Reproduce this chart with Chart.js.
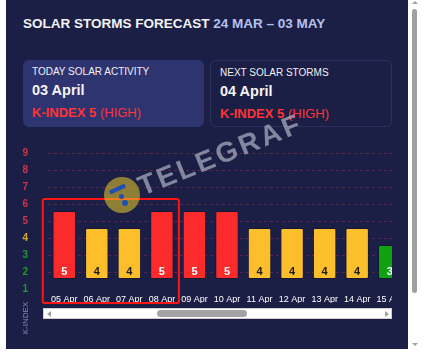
<!DOCTYPE html>
<html><head><meta charset="utf-8">
<script src="https://cdn.jsdelivr.net/npm/chart.js@4"></script>
<style>
html,body{margin:0;padding:0;background:#fff;width:428px;height:355px;overflow:hidden;font-family:"Liberation Sans",Arial,sans-serif;}
#panel{position:absolute;left:6px;top:0;width:402px;height:349px;background:#1c1f45;}
.abs{position:absolute;}
#title{left:23px;top:16px;font-size:13.5px;font-weight:bold;color:#f2f2f2;white-space:nowrap;}
#title span{color:#b4c1ee;}
.card{position:absolute;top:60px;height:67px;border-radius:6px;box-sizing:border-box;}
#c1{left:23px;width:181px;background:#2e3470;}
#c2{left:210px;width:182px;background:#1c1f45;border:1px solid #2d315e;}
.lab{position:absolute;left:9px;top:6px;font-size:10px;color:#f0f0f0;white-space:nowrap;}
.day{position:absolute;left:9px;top:22px;font-size:14.5px;font-weight:bold;color:#f4f4f4;white-space:nowrap;}
.kx{position:absolute;left:9px;top:45px;font-size:13px;color:#ff3333;white-space:nowrap;}
.kx b{font-weight:bold;}
#clip{left:0;top:127px;width:392px;height:188px;overflow:hidden;}
#kidx{left:25px;top:318px;transform:translate(-50%,-50%) rotate(-90deg);font-size:8px;color:#7f8fc4;white-space:nowrap;}
#hs{left:43px;top:308px;width:349px;height:11px;background:#fff;box-sizing:border-box;border:1px solid #d0d0d0;}
#hthumb{left:157px;top:310px;width:90px;height:7px;background:#a4a4a4;border-radius:4px;}
.tri{position:absolute;width:0;height:0;}
#wm{left:143px;top:173px;font-size:28px;line-height:28px;font-weight:bold;letter-spacing:3px;color:rgba(215,218,232,0.55);transform-origin:0 24px;transform:rotate(-22deg);white-space:nowrap;font-family:"Liberation Sans",Arial,sans-serif;}
#logo{left:104px;top:177px;width:36px;height:36px;border-radius:50%;background:rgba(235,205,40,0.55);}
#vs{left:408px;top:0;width:20px;height:355px;background:#fff;}
#vthumb{left:412px;top:9px;width:5px;height:284px;background:#a0a0a0;border-radius:3px;}
</style></head>
<body>
<div id="panel"></div>
<div id="title" class="abs">SOLAR STORMS FORECAST <span>24 MAR – 03 MAY</span></div>
<div id="c1" class="card"><div class="lab">TODAY SOLAR ACTIVITY</div><div class="day">03 April</div><div class="kx"><b>K-INDEX 5</b> (HIGH)</div></div>
<div id="c2" class="card"><div class="lab">NEXT SOLAR STORMS</div><div class="day">04 April</div><div class="kx"><b>K-INDEX 5</b> (HIGH)</div></div>
<div id="clip" class="abs"><canvas id="c" width="406" height="188" style="display:block;width:406px;height:188px"></canvas></div>
<div id="kidx" class="abs">K-INDEX</div>
<div id="hs" class="abs"></div>
<div id="hthumb" class="abs"></div>
<div class="tri" style="left:47px;top:311px;border-top:3px solid transparent;border-bottom:3px solid transparent;border-right:4px solid #a0a0a0;"></div>
<div class="tri" style="left:385px;top:311px;border-top:3px solid transparent;border-bottom:3px solid transparent;border-left:4px solid #a0a0a0;"></div>
<div id="vs" class="abs"></div>
<div id="vthumb" class="abs"></div>
<div class="tri" style="left:412px;top:1px;border-left:3px solid transparent;border-right:3px solid transparent;border-bottom:3px solid #a0a0a0;"></div>
<div class="tri" style="left:412px;top:343px;border-left:3px solid transparent;border-right:3px solid transparent;border-top:3px solid #a0a0a0;"></div>
<div id="logo" class="abs">
  <div class="abs" style="left:5px;top:10px;width:17px;height:4px;background:#1d4fb4;transform:rotate(-24deg);border-radius:1px;"></div>
  <div class="abs" style="left:15px;top:17px;width:5px;height:5px;border-radius:50%;background:#1d4fb4;"></div>
  <div class="abs" style="left:18px;top:23px;width:6px;height:6px;border-radius:50%;background:#1d4fb4;"></div>
</div>
<div id="wm" class="abs">TELEGRAF</div>
<script>
// ---- data ----
const days = ["05 Apr","06 Apr","07 Apr","08 Apr","09 Apr","10 Apr","11 Apr","12 Apr","13 Apr","14 Apr","15 Apr"];
const kIndex = [5,4,4,5,5,5,4,4,4,4,3];
const yTicks = [1,2,3,4,5,6,7,8,9];
const highlighted = [0,3]; // 05 Apr – 08 Apr

function levelColor(v){ return v>=5 ? '#fb2b2b' : (v===4 ? '#fdbe2c' : '#0fa10f'); }
function tickColor(v){ return v>=5 ? '#d3324a' : (v===4 ? '#d9a82c' : '#1f9a2e'); }

const valueLabels = {
  id:'valueLabels',
  afterDatasetsDraw(chart){
    const ctx = chart.ctx, meta = chart.getDatasetMeta(0);
    ctx.save();
    ctx.font = 'bold 11px "Liberation Sans", Arial, sans-serif';
    ctx.textAlign = 'center'; ctx.textBaseline = 'middle';
    meta.data.forEach((bar,i)=>{
      const v = kIndex[i];
      ctx.fillStyle = v===4 ? '#1a1a1a' : '#ffffff';
      ctx.fillText(String(v), bar.x, bar.base - 7);
    });
    ctx.restore();
  }
};
const highlightBox = {
  id:'highlightBox',
  afterDraw(chart){
    const x = chart.scales.x, y = chart.scales.y, ctx = chart.ctx;
    const x0 = x.getPixelForValue(highlighted[0]) - 21.5;
    const x1 = x.getPixelForValue(highlighted[1]) + 17;
    const y0 = y.getPixelForValue(6.3);
    const y1 = y0 + 104;
    ctx.save();
    ctx.strokeStyle = '#ff1414'; ctx.lineWidth = 2;
    ctx.beginPath();
    ctx.roundRect(x0, y0, x1 - x0, y1 - y0, 2);
    ctx.stroke();
    ctx.restore();
  }
};

new Chart(document.getElementById('c'), {
  type:'bar',
  data:{ labels: days, datasets:[{
    data: kIndex,
    yAxisID:'yb',
    base: 1,
    backgroundColor: kIndex.map(levelColor),
    borderColor:'rgba(10,10,30,0.35)',
    borderWidth:1,
    borderRadius:2,
    borderSkipped:false,
    categoryPercentage:1,
    barPercentage:0.72
  }]},
  options:{
    responsive:false, animation:false, devicePixelRatio:1,
    layout:{padding:{left:0,right:0,top:0,bottom:0}},
    plugins:{legend:{display:false}, tooltip:{enabled:false}},
    scales:{
      x:{
        grid:{display:false}, border:{display:false},
        ticks:{color:'#ffffff', font:{size:9, family:'"Liberation Sans", Arial, sans-serif'}, padding:-3, autoSkip:false, maxRotation:0},
        afterFit(s){ s.height = 14; }
      },
      y:{
        position:'left', min:1, max:9,
        afterBuildTicks(s){ s.ticks = yTicks.map(v=>({value:v})); },
        ticks:{ color: c => tickColor(c.tick.value), font:{size:10, weight:'bold', family:'"Liberation Sans", Arial, sans-serif'}, padding:20 },
        grid:{ drawTicks:false, color: c => c.tick && c.tick.value===1 ? 'transparent' : '#56294c', lineWidth:1 },
        border:{ display:false, dash:[3,3] },
        afterFit(s){ s.width = 48; }
      },
      yb:{ display:false, min: 1 - 10/17, max: 9 - 10/17 }
    }
  },
  plugins:[valueLabels, highlightBox]
});
</script>
</body></html>
